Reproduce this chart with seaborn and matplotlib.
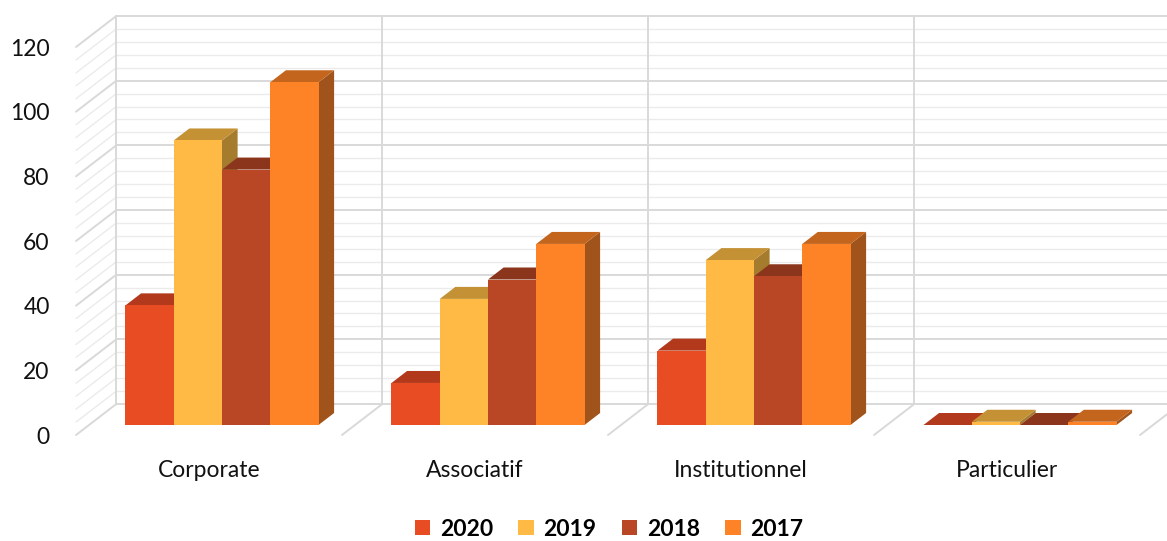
import numpy as np
import pandas as pd
import seaborn as sns
import matplotlib.pyplot as plt
from matplotlib.patches import Polygon

categories = ["Corporate", "Associatif", "Institutionnel", "Particulier"]
years = ["2020", "2019", "2018", "2017"]
v2020 = [37, 13, 23, 0]
v2019 = [88, 39, 51, 1]
v2018 = [79, 45, 46, 0]
v2017 = [106, 56, 56, 1]
yticks = [0, 20, 40, 60, 80, 100, 120]

front = ["#E84C22", "#FFBA45", "#B94624", "#FE8327"]
top = ["#B3391C", "#C49134", "#8B361C", "#C4651E"]
side = ["#A8381C", "#A57B2E", "#7E311A", "#A0531A"]

df = pd.DataFrame({
    "cat": categories * 4,
    "year": sum([[y] * 4 for y in years], []),
    "val": v2020 + v2019 + v2018 + v2017,
})

sns.set_style("white")
plt.rcParams["font.family"] = ["Lato", "DejaVu Sans"]

W, H = 1167, 541
fig = plt.figure(figsize=(W / 100, H / 100), dpi=100)
ax = fig.add_axes([76 / W, 106 / H, (W - 76) / W, 388 / H])

sns.barplot(df, x="cat", y="val", hue="year", hue_order=years,
            palette=front, saturation=1, width=0.7256, errorbar=None,
            linewidth=0, ax=ax)

ax.set_xlim(-0.5, 3.6015)
ax.set_ylim(0, 120)
sns.despine(ax=ax, left=True, bottom=True)
ax.set_xlabel("")
ax.set_ylabel("")
ax.set_yticks(yticks)
ax.tick_params(axis="x", length=0, pad=18, labelsize=16.5, colors="#111111")
ax.tick_params(axis="y", length=0, pad=19, labelsize=16.5, colors="#111111")

# pixels per data unit, used to push things "back" in depth
xr = ax.get_xlim()
sx = ax.bbox.width / (xr[1] - xr[0])
sy = ax.bbox.height / 120


def sh(t):
    return 1.3 * t / sx, t / sy


# walls and floor
bx, by = sh(31)
grid_major = "#D9D9D9"
grid_minor = "#EBEBEB"
for v in range(0, 121, 4):
    major = v % 20 == 0
    c = grid_major if major else grid_minor
    lw = 1.4 if major else 1.0
    ax.plot([-0.5 + bx, 3.8 + bx], [v + by, v + by], color=c, lw=lw,
            clip_on=False, zorder=0.5 if major else 0.4)
    ax.plot([-0.5, -0.5 + bx], [v, v + by], color=c, lw=lw,
            clip_on=False, zorder=0.5 if major else 0.4)
for xb in [-0.5, 0.5, 1.5, 2.5, 3.5]:
    ax.plot([xb + bx, xb + bx], [by, 120 + by], color=grid_major, lw=1.4,
            clip_on=False, zorder=0.6)
    if xb > 0:
        ax.plot([xb, xb + bx], [0, by], color=grid_major, lw=1.4,
                clip_on=False, zorder=0.6)

# 3D bars
fx, fy = sh(10)
dx, dy = sh(12)
bars = []
for i, cont in enumerate(ax.containers):
    for p in cont.patches:
        bars.append((p.get_x(), i, p))
bars.sort(key=lambda b: b[0])
for k, (x0, i, p) in enumerate(bars):
    w, h = p.get_width(), p.get_height()
    x = x0 + fx
    y0 = fy
    y1 = fy + h
    z = 2 + k * 0.01
    p.set_x(x)
    p.set_y(y0)
    p.set_clip_on(False)
    p.set_zorder(z + 0.002)
    ax.add_patch(Polygon([(x + w, y0), (x + w + dx, y0 + dy),
                          (x + w + dx, y1 + dy), (x + w, y1)],
                         closed=True, facecolor=side[i], lw=0,
                         clip_on=False, zorder=z))
    ax.add_patch(Polygon([(x, y1), (x + w, y1), (x + w + dx, y1 + dy),
                          (x + dx, y1 + dy)],
                         closed=True, facecolor=top[i], lw=0,
                         clip_on=False, zorder=z + 0.001))

sns.move_legend(ax, "center", bbox_to_anchor=(609 / W, 12 / H),
                bbox_transform=fig.transFigure, ncol=4, frameon=False,
                title="", handlelength=0.68, handleheight=0.68,
                handletextpad=0.42, columnspacing=1.1,
                prop={"weight": "bold", "size": 16.5})
for t in ax.get_legend().get_texts():
    t.set_color("black")

fig.savefig("out.png", dpi=100)
